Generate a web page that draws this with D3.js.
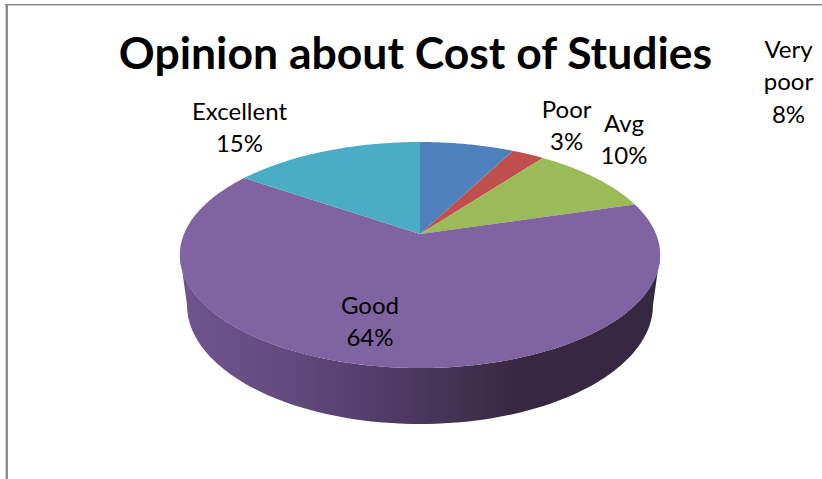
<!DOCTYPE html>
<html><head><meta charset="utf-8">
<script src="https://cdn.jsdelivr.net/npm/d3@7"></script>
<style>html,body{margin:0;padding:0;background:#fff;overflow:hidden}svg{display:block}</style>
</head><body>
<svg id="c" width="822" height="479"></svg>
<script>
const categories = ["Very poor","Poor","Avg","Good","Excellent"];
const values = [7.6,2.6,10.2,64.2,15.4];
const colors = ["#4f81bd","#c0504d","#9bbb59","#8064a2","#4bacc6"];
const titleText = "Opinion about Cost of Studies";

const svg = d3.select("#c");
const apex = {x:420,y:234}, B=236, A=109.1, k=-0.186;
const project = (a,r=1)=>{const px=Math.sin(a)*r,py=-Math.cos(a)*r,d=1+k*py;return [apex.x+B*px/d,apex.y+A*py/d];};
const line = d3.line();

const defs = svg.append("defs");
const g = defs.append("linearGradient").attr("id","wall").attr("gradientUnits","userSpaceOnUse")
  .attr("x1",180).attr("x2",660).attr("y1",0).attr("y2",0);
[[0,"#6f5590"],[0.25,"#60497c"],[0.48,"#4c3860"],[0.62,"#3e2f4b"],[0.72,"#352840"],[1,"#352840"]]
  .forEach(([o,c])=>g.append("stop").attr("offset",o).attr("stop-color",c));

const wallTop = {cx:420,cy:255,rx:240,ry:113};
const wallBot = {cx:420,cy:305,rx:233,ry:119};
const pts=[];
const sweep=d3.range(0,181,2).map(d=>d*Math.PI/180);
sweep.forEach(t=>pts.push([wallTop.cx+wallTop.rx*Math.cos(t),wallTop.cy+wallTop.ry*Math.sin(t)]));
sweep.slice().reverse().forEach(t=>pts.push([wallBot.cx+wallBot.rx*Math.cos(t),wallBot.cy+wallBot.ry*Math.sin(t)]));
svg.append("path").attr("d",line(pts)+"Z").attr("fill","url(#wall)");

const arcs = d3.pie().sort(null).value(d=>d)(values);
svg.selectAll("path.slice").data(arcs).join("path").attr("class","slice")
  .attr("fill",(d,i)=>colors[i])
  .attr("d",d=>{
    const n=Math.ceil((d.endAngle-d.startAngle)/0.01);
    const p=[[apex.x,apex.y]];
    d3.range(n+1).forEach(i=>p.push(project(d.startAngle+(d.endAngle-d.startAngle)*i/n)));
    return line(p)+"Z";
  });

svg.append("line").attr("x1",5).attr("x2",822).attr("y1",4.7).attr("y2",4.7).attr("stroke","#8c8c8c").attr("stroke-width",1.5);
svg.append("line").attr("x1",6.8).attr("x2",6.8).attr("y1",4).attr("y2",479).attr("stroke","#8c8c8c").attr("stroke-width",2.4);

svg.append("text").text(titleText).attr("x",415.5).attr("y",69).attr("text-anchor","middle")
  .attr("font-family","Lato").attr("font-weight",700).attr("font-size",44.5).attr("fill","#000");

const labelAnchors=[[788.5,58],[566.7,117.5],[624,131.5],[370,314],[239.5,120]];
const labelLines=[["Very","poor"],["Poor"],["Avg"],["Good"],["Excellent"]];
const pct=d3.format(".0%"), total=d3.sum(values);
arcs.forEach((d,i)=>{
  const t=svg.append("text").attr("text-anchor","middle").attr("font-family","Lato").attr("font-size",24).attr("fill","#000");
  const ls=[...labelLines[i],pct(values[i]/total)];
  ls.forEach((s,j)=>t.append("tspan").attr("x",labelAnchors[i][0]).attr("y",labelAnchors[i][1]+j*32.3).text(s));
});
</script>
</body></html>
